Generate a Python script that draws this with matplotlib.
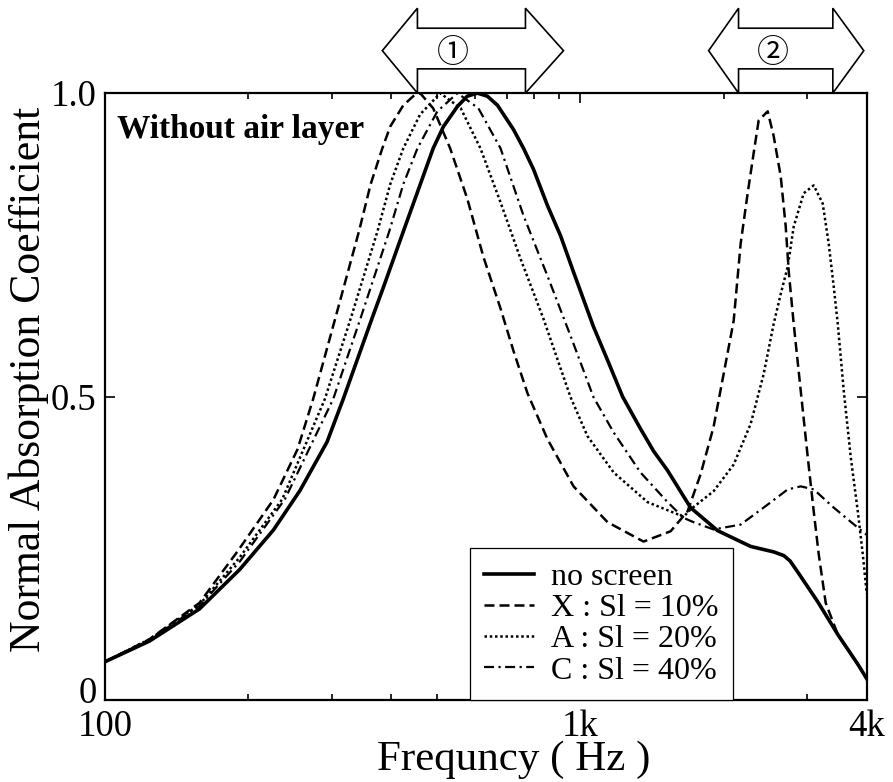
"""
Normal absorption coefficient vs frequency, without air layer.
"""

import matplotlib.pyplot as plt
import matplotlib.patches as patches
from matplotlib.ticker import FixedLocator, NullFormatter
from matplotlib.transforms import ScaledTranslation

# --- data (Hz, absorption coefficient) ---
freq_none = [100, 124, 158, 192, 226, 257, 293, 317, 339, 366, 385, 424, 490, 515,
             551, 578, 607, 637, 669, 723, 759, 796, 852, 908, 967, 1065, 1140,
             1226, 1337, 1425, 1525, 1704, 1943, 2280, 2549, 2676, 2760, 2880, 3154,
             3476, 3830, 4000]
alpha_none = [0.063, 0.097, 0.150, 0.215, 0.280, 0.345, 0.425, 0.496, 0.560, 0.633,
              0.680, 0.772, 0.909, 0.945, 0.978, 0.995, 1.000, 0.995, 0.980, 0.940,
              0.909, 0.875, 0.815, 0.765, 0.705, 0.615, 0.560, 0.500, 0.447, 0.410,
              0.378, 0.317, 0.279, 0.253, 0.244, 0.238, 0.229, 0.208, 0.162, 0.108,
              0.059, 0.035]

freq_x = [100, 124, 158, 190, 226, 254, 274, 306, 342, 362, 383, 398, 424, 445, 460,
          490, 532, 578, 625, 679, 723, 774, 852, 967, 1140, 1357, 1547, 1680, 1789,
          1905, 2000, 2100, 2172, 2247, 2313, 2370, 2476, 2549, 2637, 2702, 2741,
          2808, 2906, 3006, 3094, 3170, 3279, 3476, 3830, 4000]
alpha_x = [0.063, 0.100, 0.160, 0.245, 0.330, 0.413, 0.496, 0.633, 0.772, 0.850,
           0.909, 0.945, 0.980, 0.995, 1.000, 0.975, 0.909, 0.826, 0.730, 0.645,
           0.575, 0.505, 0.430, 0.352, 0.293, 0.261, 0.278, 0.311, 0.372, 0.450,
           0.537, 0.625, 0.752, 0.835, 0.901, 0.955, 0.970, 0.929, 0.863, 0.780,
           0.707, 0.620, 0.509, 0.400, 0.311, 0.240, 0.160, 0.108, 0.059, 0.035]

freq_a = [100, 124, 158, 192, 236, 290, 330, 374, 398, 424, 460, 507, 560, 616, 679,
          748, 836, 953, 1034, 1174, 1384, 1648, 1704, 1905, 2100, 2280, 2428, 2549,
          2637, 2728, 2808, 2948, 3094, 3232, 3327, 3409, 3476, 3579, 3702, 3830,
          3924, 4000]
alpha_a = [0.063, 0.100, 0.157, 0.235, 0.331, 0.496, 0.633, 0.772, 0.850, 0.909,
           0.965, 1.000, 0.975, 0.909, 0.820, 0.727, 0.628, 0.499, 0.435, 0.375,
           0.326, 0.302, 0.314, 0.344, 0.388, 0.455, 0.537, 0.620, 0.669, 0.714,
           0.780, 0.835, 0.848, 0.818, 0.752, 0.681, 0.620, 0.509, 0.400, 0.311,
           0.240, 0.175]

freq_c = [100, 124, 158, 192, 239, 302, 346, 396, 424, 454, 500, 551, 610, 679, 759,
          852, 953, 1065, 1174, 1337, 1525, 1648, 1729, 1905, 2172, 2476, 2728, 2906,
          3094, 3409, 3830, 4000]
alpha_c = [0.063, 0.099, 0.155, 0.228, 0.331, 0.496, 0.633, 0.772, 0.850, 0.909,
           0.970, 1.000, 0.975, 0.909, 0.798, 0.699, 0.600, 0.499, 0.441, 0.375,
           0.326, 0.300, 0.293, 0.281, 0.289, 0.322, 0.347, 0.352, 0.347, 0.317,
           0.284, 0.272]

labels = ['no screen', 'X : Sl = 10%', 'A : Sl = 20%', 'C : Sl = 40%']

# frequency bands marked above the plot (tip, head, head, tip) in Hz
band_1 = [383, 454, 766, 921]
band_2 = [1860, 2150, 3394, 3943]
band_marks = ['①', '②']
band_mark_freq = [540, 2537]

SERIF = 'Liberation Serif'


def band_arrow(ax, b, y0=1.0, y1=1.04, y2=1.107, y3=1.14):
    ym = (y0 + y3) / 2
    verts = [(b[0], ym), (b[1], y3), (b[1], y2), (b[2], y2), (b[2], y3), (b[3], ym),
             (b[2], y0), (b[2], y1), (b[1], y1), (b[1], y0)]
    poly = patches.Polygon(verts, closed=True, facecolor='white', edgecolor='black',
                           lw=1.2, clip_on=False, zorder=5, transform=ax.transData)
    ax.add_patch(poly)
    return ym


def main():
    plt.rcParams['font.family'] = [SERIF, 'DejaVu Serif']
    fig = plt.figure(figsize=(8.93, 7.82), dpi=100)
    ax = fig.add_axes([0.1176, 0.1049, 0.853, 0.776])

    ax.plot(freq_none, alpha_none, color='black', lw=2.6, ls='-', label=labels[0])
    ax.plot(freq_x, alpha_x, color='black', lw=1.8, ls=(0, (4, 2)), label=labels[1])
    ax.plot(freq_a, alpha_a, color='black', lw=1.8, ls=(0, (1, 1.1)), label=labels[2])
    ax.plot(freq_c, alpha_c, color='black', lw=1.6, ls=(0, (4.5, 2, 1, 2)), label=labels[3])

    ax.set_xscale('log')
    ax.set_xlim(100, 4000)
    ax.set_ylim(0, 1.0)

    ax.xaxis.set_major_locator(FixedLocator([100, 1000, 4000]))
    ax.set_xticklabels(['100', '1k', '4k'])
    ax.xaxis.set_minor_locator(FixedLocator([200, 300, 400, 500, 600, 700, 800, 900,
                                             2000, 3000]))
    ax.xaxis.set_minor_formatter(NullFormatter())
    ax.set_yticks([0, 0.5, 1.0])
    ax.set_yticklabels(['0', '0.5', '1.0'])

    ax.tick_params(which='both', direction='in', top=True, right=True,
                   labelsize=26.5, width=1.2)
    ax.tick_params(which='major', length=7)
    ax.tick_params(which='minor', length=4)
    ax.tick_params(axis='x', pad=7)
    ax.tick_params(axis='y', pad=6)
    for sp in ax.spines.values():
        sp.set_linewidth(1.6)

    # lift the "0" label a little so it clears "100"
    zero_lab = ax.yaxis.get_major_ticks()[0].label1
    zero_lab.set_transform(zero_lab.get_transform()
                           + ScaledTranslation(0, 7 / 72, fig.dpi_scale_trans))

    ax.set_xlabel('Frequncy ( Hz )', fontsize=31, va='bottom')
    ax.xaxis.set_label_coords(0.537, -0.131)
    ax.set_ylabel('Normal Absorption Coefficient', fontsize=31.5)
    ax.yaxis.set_label_coords(-0.073, 0.529)

    ax.text(0.016, 0.965, 'Without air layer', transform=ax.transAxes, fontsize=24,
            fontweight='bold', ha='left', va='top')

    leg = ax.legend(loc='lower left', bbox_to_anchor=(0.479, 0.0), borderaxespad=0,
                    fontsize=23, frameon=True, fancybox=False, edgecolor='black',
                    handlelength=1.55, handletextpad=0.55, labelspacing=0.06,
                    borderpad=0.45)
    leg.get_frame().set_linewidth(0.9)
    leg.get_frame().set_alpha(1)

    # frequency band arrows above the axes
    for b, mark, fm in zip([band_1, band_2], band_marks, band_mark_freq):
        ym = band_arrow(ax, b)
        ax.text(fm, ym - 0.006, mark, ha='center', va='center', fontsize=23, zorder=6,
                family=[SERIF, 'Noto Sans CJK JP', 'DejaVu Sans'])

    fig.savefig('out.png', dpi=100)
    plt.close(fig)


if __name__ == "__main__":
    main()
